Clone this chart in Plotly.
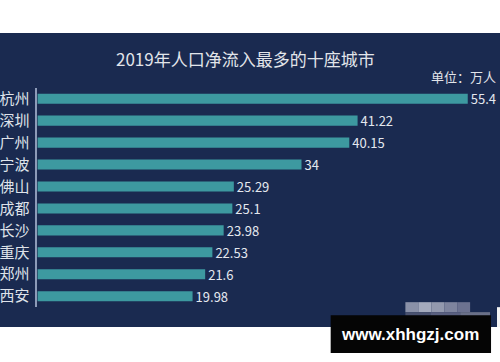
import plotly.graph_objects as go

cities = ["杭州", "深圳", "广州", "宁波", "佛山", "成都", "长沙", "重庆", "郑州", "西安"]
values = [55.4, 41.22, 40.15, 34, 25.29, 25.1, 23.98, 22.53, 21.6, 19.98]
value_labels = ["55.4", "41.22", "40.15", "34", "25.29", "25.1", "23.98", "22.53", "21.6", "19.98"]
title_text = "2019年人口净流入最多的十座城市"
unit_text = "单位：万人"
watermark_text = "www.xhhgzj.com"

W, H = 500, 362
FONT = "Noto Sans CJK SC"
BG = "#1a2a50"
BAR = "#3d99a0"

def px(x):
    return x / W

def py(y):
    return 1 - y / H

fig = go.Figure()
fig.add_trace(go.Bar(
    x=values, y=cities, orientation="h",
    marker=dict(color=BAR, line=dict(width=0)),
    text=value_labels, textposition="outside", cliponaxis=False, constraintext="none",
    textfont=dict(family=FONT, size=13, color="#e4e8ef"),
    hoverinfo="skip",
))

shapes = [
    dict(type="rect", xref="paper", yref="paper", x0=-0.02, x1=1.02, y0=py(327), y1=py(32),
         fillcolor=BG, line=dict(width=0), layer="below"),
]
# blurred pixel block near watermark
blocks = [
    (405, 418, 302, 312, "#8a91a8"), (418, 431, 302, 312, "#a4aabd"),
    (431, 444, 302, 312, "#9399ae"), (444, 457, 302, 312, "#7e849e"),
    (457, 470, 302, 312, "#6c7290"),
    (405, 430, 312, 316, "#4a5270"), (430, 460, 312, 316, "#5a6080"),
    (460, 490, 312, 316, "#6a7088"),
]
for x0, x1, y0, y1, c in blocks:
    shapes.append(dict(type="rect", xref="paper", yref="paper", x0=px(x0), x1=px(x1),
                       y0=py(y1), y1=py(y0), fillcolor=c, line=dict(width=0), layer="above"))
shapes.append(dict(type="rect", xref="paper", yref="paper", x0=px(497), x1=1.02,
                   y0=py(327), y1=py(307), fillcolor="#f4f4f4", line=dict(width=0), layer="above"))
shapes.append(dict(type="rect", xref="paper", yref="paper", x0=px(330), x1=px(491),
                   y0=py(353), y1=py(315), fillcolor="#050505", line=dict(width=0), layer="above"))

annotations = [
    dict(text=title_text, x=px(244), y=py(58), xref="paper", yref="paper",
         xanchor="center", yanchor="middle", showarrow=False,
         font=dict(family=FONT, size=17, color="#e2e5ea")),
    dict(text=unit_text, x=px(498), y=py(76), xref="paper", yref="paper",
         xanchor="right", yanchor="middle", showarrow=False,
         font=dict(family=FONT, size=13, color="#e2e5ea")),
    dict(text="<b>" + watermark_text + "</b>", x=px(410), y=py(334), xref="paper", yref="paper",
         xanchor="center", yanchor="middle", showarrow=False,
         font=dict(family="Liberation Sans", size=17, color="#ffffff")),
]

fig.update_layout(
    width=W, height=H,
    margin=dict(l=0, r=0, t=0, b=0),
    paper_bgcolor="#ffffff",
    plot_bgcolor="rgba(0,0,0,0)",
    showlegend=False,
    bargap=0.54,
    shapes=shapes,
    annotations=annotations,
    xaxis=dict(domain=[px(35.5), px(35.5 + 58 * 7.8)], range=[0, 58],
               visible=False, showgrid=False, zeroline=False, fixedrange=True),
    yaxis=dict(domain=[py(307), py(87)], autorange="reversed",
               showgrid=False, zeroline=False, showline=True, linecolor="#8d9bb8", linewidth=1.5,
               ticks="", ticklabelstandoff=3,
               tickfont=dict(family=FONT, size=15, color="#dfe3ea")),
)

fig.write_html(
    "out.html",
    config={"displayModeBar": False},
    post_script="document.body.style.margin='0';document.body.style.padding='0';document.body.style.overflow='hidden';",
)
